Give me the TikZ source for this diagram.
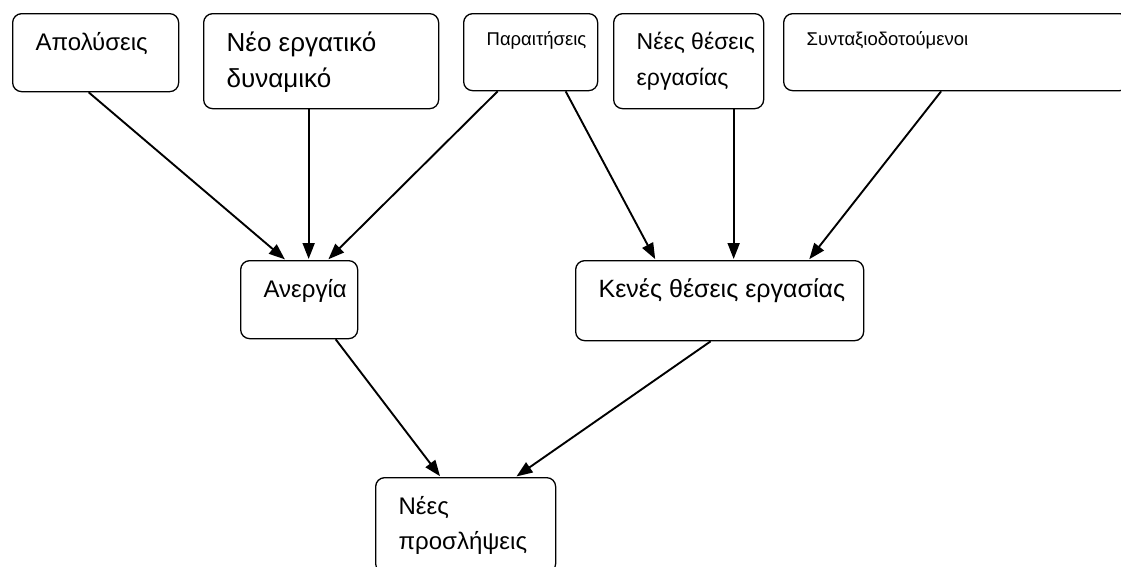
\documentclass[tikz,border=0pt]{standalone}
\usepackage{fontspec}
\setmainfont{Liberation Sans}
\usetikzlibrary{arrows.meta}

\tikzset{
  box/.style={draw, line width=1.3pt, rounded corners=9pt, inner sep=0pt, anchor=north west},
  feed/.style={line width=1.9pt, -{Triangle[length=16pt,width=12pt]}, shorten >=1pt},
}
% text set in the top left corner of a box: width, height, font, text
\newcommand{\boxtext}[4]{\parbox[c][#2][t]{#1}{\raggedright\leftskip=23pt\relax
  \vspace*{16pt}#3\rule{0pt}{0.85em}#4}}

\begin{document}
\begin{tikzpicture}[x=1pt,y=-1pt]
\useasboundingbox (0,0) rectangle (1121,566);

% top row
\node[box] (apol) at (12,13) {\boxtext{166pt}{78pt}{\fontsize{24}{30}\selectfont}{Απολύσεις}};
\node[box] (neo) at (203,13) {\boxtext{235pt}{95pt}{\fontsize{26}{36}\selectfont}{Νέο εργατικό\\δυναμικό}};
\node[box] (parait) at (463,13) {\boxtext{134pt}{77pt}{\fontsize{18.5}{24}\selectfont}{Παραιτήσεις}};
\node[box] (nees) at (613,13) {\boxtext{150pt}{95pt}{\fontsize{23}{36}\selectfont}{Νέες θέσεις\\εργασίας}};
\node[box] (synt) at (783,13) {\boxtext{345pt}{77pt}{\fontsize{18.5}{24}\selectfont}{Συνταξιοδοτούμενοι}};

% middle row
\node[box] (anerg) at (240,260) {\boxtext{117pt}{78pt}{\fontsize{24}{30}\selectfont}{Ανεργία}};
\node[box] (kenes) at (575,260) {\boxtext{288pt}{80pt}{\fontsize{25}{30}\selectfont}{Κενές θέσεις εργασίας}};

% bottom
\node[box] (neespr) at (375,477) {\boxtext{180pt}{95pt}{\fontsize{24}{35}\selectfont}{Νέες\\προσλήψεις}};

\draw[feed] ([xshift=-7pt]apol.south) -- ([xshift=-13.5pt]anerg.north);
\draw[feed] ([xshift=-12.5pt]neo.south) -- ([xshift=9.5pt]anerg.north);
\draw[feed] ([xshift=-33pt]parait.south) -- ([xshift=28.5pt]anerg.north);
\draw[feed] ([xshift=35pt]parait.south) -- ([xshift=-64pt]kenes.north);
\draw[feed] ([xshift=45pt]nees.south) -- ([xshift=14pt]kenes.north);
\draw[feed] ([xshift=-15pt]synt.south) -- ([xshift=89pt]kenes.north);
\draw[feed] ([xshift=36.5pt]anerg.south) -- ([xshift=-25pt]neespr.north);
\draw[feed] ([xshift=-9pt]kenes.south) -- ([xshift=50pt]neespr.north);

\end{tikzpicture}
\end{document}
